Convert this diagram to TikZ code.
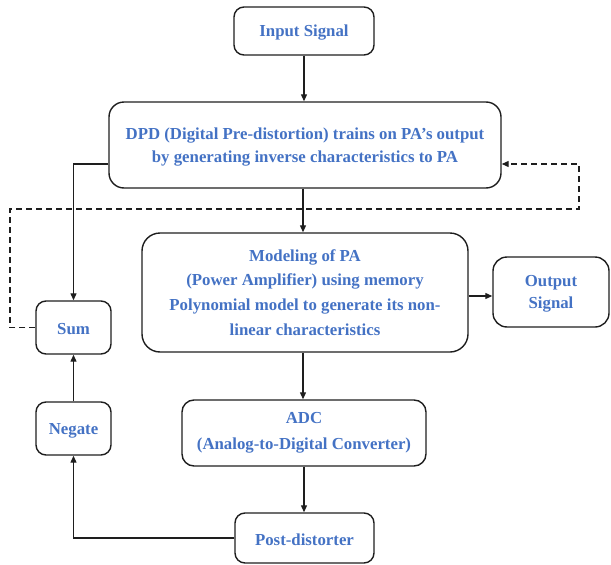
\documentclass[tikz,border=0pt]{standalone}
\usepackage{fontspec}
\setmainfont{Liberation Serif}
\usetikzlibrary{arrows.meta,calc}
\definecolor{txtblue}{HTML}{4472C4}
\definecolor{edge}{HTML}{1E1E1E}
\begin{document}
\begin{tikzpicture}[x=1pt,y=-1pt,
  blk/.style={draw=edge,line width=1.4pt,rounded corners=10pt,align=center,
    font=\bfseries\fontsize{16.8}{24}\selectfont,text=txtblue,inner sep=0pt},
  low/.style={text height=15pt},
  conn/.style={draw=edge,line width=1.2pt,-{Triangle[length=7pt,width=6pt]}},
  dconn/.style={conn,dash pattern=on 6pt off 4pt}]
\useasboundingbox (0,0) rectangle (611,565);
\node[blk,low,minimum width=140pt,minimum height=48pt] (input) at (304,31) {Input Signal};
\node[blk,text height=38.5pt,text depth=3.5pt,minimum width=392pt,minimum height=86pt,rounded corners=15pt,font=\bfseries\fontsize{16.8}{23}\selectfont] (dpd) at (305,145)
  {DPD (Digital Pre-distortion) trains on PA’s output\\by generating inverse characteristics to PA};
\node[blk,minimum width=326pt,minimum height=119pt,rounded corners=18pt,font=\bfseries\fontsize{16.8}{24.7}\selectfont] (model) at (305,292.5)
  {Modeling of PA\\(Power Amplifier) using memory\\Polynomial model to generate its non-\\linear characteristics};
\node[blk,text height=36.5pt,text depth=3.5pt,minimum width=116pt,minimum height=70pt,rounded corners=14pt,font=\bfseries\fontsize{16.8}{22}\selectfont] (output) at (551,292) {Output\\Signal};
\node[blk,low,minimum width=75pt,minimum height=53pt] (sum) at (73.5,327.5) {Sum};
\node[blk,low,minimum width=75pt,minimum height=53pt] (negate) at (73.5,428.5) {Negate};
\node[blk,minimum width=244pt,minimum height=66pt,rounded corners=12pt,font=\bfseries\fontsize{16.8}{26}\selectfont] (adc) at (304,433)
  {ADC\\(Analog-to-Digital Converter)};
\node[blk,low,minimum width=139pt,minimum height=50pt] (post) at (304.5,538) {Post-distorter};
% connectors
\draw[conn] (input.south) -- (input.south |- dpd.north);
\draw[conn] ([xshift=-2pt]dpd.south) -- ([xshift=-2pt]dpd.south |- model.north);
\draw[conn] ([yshift=-19pt]dpd.west) -| (sum.north);
\draw[conn] ([yshift=-3.5pt]model.east) -- ([yshift=-3.5pt]model.east -| output.west);
\draw[conn] ([xshift=-2pt]model.south) -- ([xshift=-2pt]model.south |- adc.north);
\draw[conn] (adc.south) -- (adc.south |- post.north);
\draw[conn] (post.west) -| (negate.south);
\draw[conn] (negate.north) -- (sum.south);
\coordinate (dl) at (10,209);
\coordinate (dr) at (579,209);
\draw[dconn] (sum.west) -| (dl) -- (dr) |- ([yshift=-19pt]dpd.east);
\end{tikzpicture}
\end{document}
